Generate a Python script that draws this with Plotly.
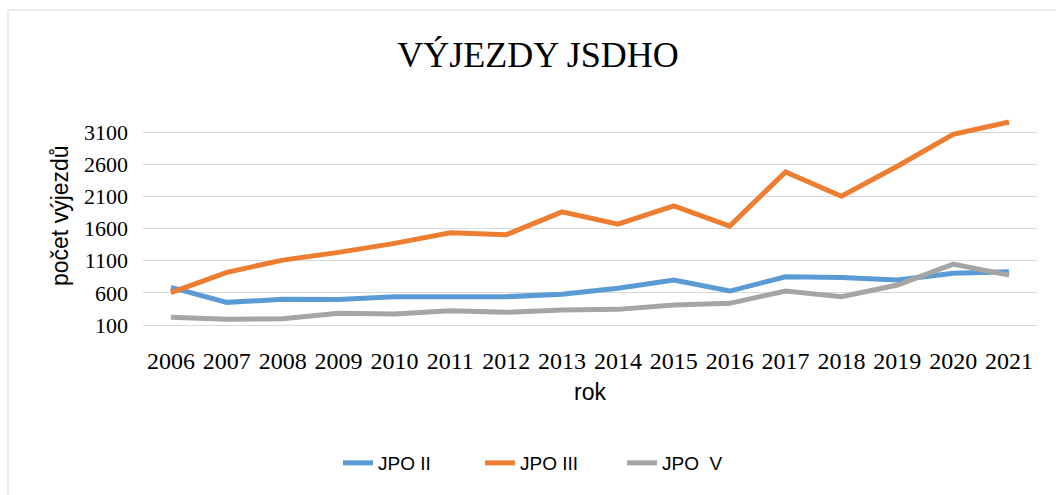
import plotly.graph_objects as go

years = [str(y) for y in range(2006, 2022)]
jpo_ii = [685, 452, 499, 495, 540, 540, 540, 577, 670, 799, 628, 850, 840, 799, 903, 928]
jpo_iii = [602, 918, 1109, 1229, 1369, 1534, 1503, 1860, 1668, 1953, 1637, 2481, 2103, 2569, 3066, 3257]
jpo_v = [219, 188, 198, 281, 271, 322, 297, 333, 343, 411, 437, 628, 540, 721, 1047, 876]
y_ticks = [100, 600, 1100, 1600, 2100, 2600, 3100]

series = [("JPO II", jpo_ii, "#5B9BD5"), ("JPO III", jpo_iii, "#ED7D31"), ("JPO  V", jpo_v, "#A5A5A5")]

fig = go.Figure()
for name, vals, col in series:
    fig.add_trace(go.Scatter(x=years, y=vals, mode="lines", name=name,
                             line=dict(color=col, width=5)))

L, R, T, B = 143, 19, 116, 170
W, H = 1056, 495
pw, ph = W - L - R, H - T - B

def px_x(p):
    return (p - L) / pw

def px_y(p):
    return (H - B - p) / ph

fig.update_layout(
    width=W, height=H,
    margin=dict(l=L, r=R, t=T, b=B),
    paper_bgcolor="white", plot_bgcolor="white",
    title=dict(text="VÝJEZDY JSDHO", x=px_x(538), xanchor="center", xref="paper",
               y=1 - 54 / H, yanchor="middle",
               font=dict(family="Liberation Serif", size=36, color="#000000")),
    showlegend=True,
    legend=dict(orientation="h", x=px_x(338), xanchor="left", y=px_y(463), yanchor="middle",
                font=dict(family="Liberation Sans", size=19, color="#000000"),
                entrywidth=97, entrywidthmode="pixels", tracegroupgap=0),
    xaxis=dict(type="category", range=[-0.5, 15.5], showgrid=False, showline=True,
               linecolor="#D9D9D9", linewidth=1, ticks="", ticklabelstandoff=14,
               automargin=False,
               tickfont=dict(family="Liberation Serif", size=24, color="#000000")),
    yaxis=dict(range=[100, 3350], tickvals=y_ticks, showgrid=True, gridcolor="#D9D9D9",
               gridwidth=1, zeroline=False, ticks="", ticklabelstandoff=14,
               automargin=False,
               tickfont=dict(family="Liberation Serif", size=22, color="#000000")),
    annotations=[
        dict(text="počet výjezdů", xref="paper", yref="paper", x=px_x(60), y=px_y(216),
             textangle=-90, showarrow=False, xanchor="center", yanchor="middle",
             font=dict(family="Liberation Sans", size=23, color="#000000")),
        dict(text="rok", xref="paper", yref="paper", x=px_x(590), y=px_y(392),
             showarrow=False, xanchor="center", yanchor="middle",
             font=dict(family="Liberation Sans", size=23, color="#000000")),
    ],
    shapes=[dict(type="rect", xref="paper", yref="paper", x0=px_x(8), x1=px_x(1060),
                 y0=px_y(500), y1=px_y(10), line=dict(color="#D9D9D9", width=1),
                 fillcolor="rgba(0,0,0,0)", layer="below")],
)

fig.write_html("out.html", config={"displayModeBar": False},
               post_script="document.body.style.margin='0';document.body.style.overflow='hidden';")
